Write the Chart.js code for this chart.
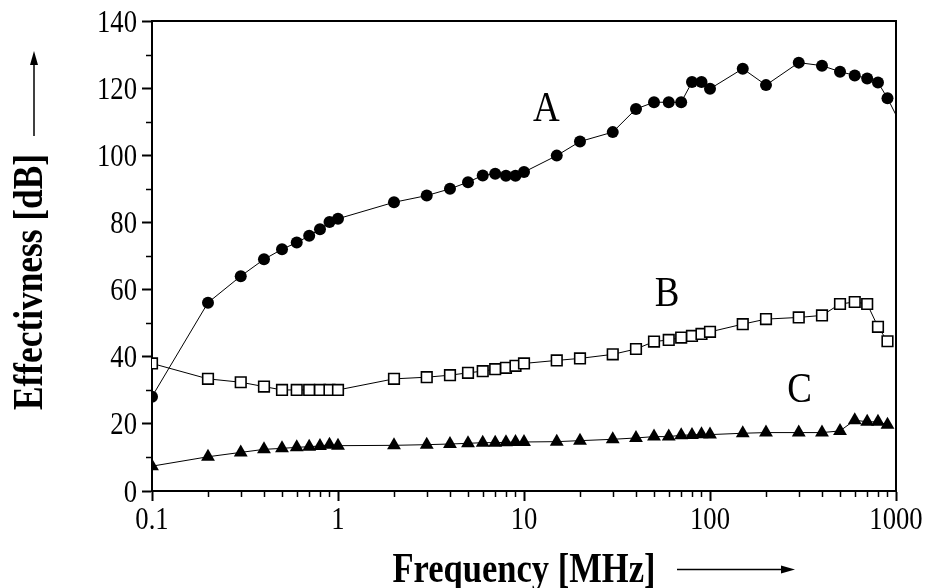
<!DOCTYPE html>
<html>
<head>
<meta charset="utf-8">
<script src="https://cdn.jsdelivr.net/npm/chart.js@4.4.1/dist/chart.umd.min.js"></script>
<style>
    html, body { margin: 0; padding: 0; background: #fff; }
    #wrap { width: 930px; height: 588px; }
</style>
</head>
<body>
<div id="wrap"><canvas id="chart" width="930" height="588"></canvas></div>
<script>
// --- Data ---
const freqA = [0.1, 0.2, 0.3, 0.4, 0.5, 0.6, 0.7, 0.8, 0.9, 1, 2, 3, 4, 5, 6, 7, 8, 9, 10, 15, 20, 30, 40, 50, 60, 70, 80, 90, 100, 150, 200, 300, 400, 500, 600, 700, 800, 900, 1000];
const valuesA = [28.1, 56.1, 64, 69, 72, 74, 76, 78, 80.1, 81.1, 86, 88, 90, 92, 94, 94.5, 93.9, 93.9, 95, 99.9, 104.1, 106.9, 113.8, 115.8, 115.8, 115.8, 121.8, 121.8, 119.8, 125.8, 120.9, 127.6, 126.7, 124.9, 123.8, 122.9, 121.7, 117, 112];

const freqBC = [0.1, 0.2, 0.3, 0.4, 0.5, 0.6, 0.7, 0.8, 0.9, 1, 2, 3, 4, 5, 6, 7, 8, 9, 10, 15, 20, 30, 40, 50, 60, 70, 80, 90, 100, 150, 200, 300, 400, 500, 600, 700, 800, 900];
const valuesB = [38, 33.4, 32.4, 31.1, 30.1, 30.1, 30.1, 30.1, 30.1, 30.1, 33.4, 33.9, 34.5, 35.2, 35.7, 36.3, 36.7, 37.3, 38, 38.9, 39.5, 40.7, 42.3, 44.5, 45, 45.7, 46.2, 46.8, 47.4, 49.7, 51.2, 51.7, 52.3, 55.7, 56.3, 55.7, 48.9, 44.6];
const valuesC = [7.4, 10.2, 11.5, 12.4, 12.7, 13, 13.2, 13.4, 13.8, 13.5, 13.6, 13.8, 14, 14.2, 14.4, 14.4, 14.5, 14.6, 14.6, 14.7, 15, 15.4, 15.8, 16.2, 16.2, 16.6, 16.7, 16.9, 16.8, 17.2, 17.4, 17.4, 17.4, 17.9, 21.1, 20.6, 20.6, 19.7];

const seriesNames = ['A', 'B', 'C'];
const nameFreq = [13.2, 58.7, 303];
const nameValue = [110.2, 55.2, 26.6];

const xMajorTicks = [0.1, 1, 10, 100, 1000];
const xTickLabels = ['0.1', '1', '10', '100', '1000'];
const xMinorTicks = [0.2, 0.3, 0.4, 0.5, 0.6, 0.7, 0.8, 0.9, 2, 3, 4, 5, 6, 7, 8, 9, 20, 30, 40, 50, 60, 70, 80, 90, 200, 300, 400, 500, 600, 700, 800, 900];
const yMajorTicks = [0, 20, 40, 60, 80, 100, 120, 140];
const yTickLabels = ['0', '20', '40', '60', '80', '100', '120', '140'];
const yMinorTicks = [10, 30, 50, 70, 90, 110, 130];

const xTitle = 'Frequency [MHz]';
const yTitle = 'Effectivness [dB]';

// --- Helpers ---
function toPoints(xs, ys) {
    return xs.map((x, i) => ({ x: x, y: ys[i] }));
}

// the picture uses a narrow Times face, so squeeze the text horizontally
function squeezedText(ctx, text, x, y, font, sx) {
    ctx.font = font;
    ctx.save();
    ctx.translate(x, y);
    ctx.scale(sx, 1);
    ctx.fillText(text, 0, 0);
    ctx.restore();
}

function fittedText(ctx, text, x, y, font, width) {
    ctx.font = font;
    squeezedText(ctx, text, x, y, font, width / ctx.measureText(text).width);
}

function arrow(ctx, x1, y1, x2, y2) {
    const ang = Math.atan2(y2 - y1, x2 - x1);
    const len = 14, half = 4;
    ctx.beginPath();
    ctx.moveTo(x1, y1);
    ctx.lineTo(x2 - Math.cos(ang) * len, y2 - Math.sin(ang) * len);
    ctx.lineWidth = 1.5;
    ctx.stroke();
    ctx.beginPath();
    ctx.moveTo(x2, y2);
    ctx.lineTo(x2 - Math.cos(ang) * len - Math.sin(ang) * half, y2 - Math.sin(ang) * len + Math.cos(ang) * half);
    ctx.lineTo(x2 - Math.cos(ang) * len + Math.sin(ang) * half, y2 - Math.sin(ang) * len - Math.cos(ang) * half);
    ctx.closePath();
    ctx.fill();
}

// --- Extra drawing: frame, minor ticks, tick labels, names, titles ---
const decorPlugin = {
    id: 'decor',
    afterDraw(chart) {
        const ctx = chart.ctx;
        const area = chart.chartArea;
        const xs = chart.scales.x, ys = chart.scales.y;
        const tickFont = '31px "Liberation Serif"';
        ctx.save();
        ctx.strokeStyle = '#000';
        ctx.fillStyle = '#000';

        // top and right frame
        ctx.lineWidth = 2;
        ctx.beginPath();
        ctx.moveTo(area.left, area.top);
        ctx.lineTo(area.right, area.top);
        ctx.lineTo(area.right, area.bottom);
        ctx.stroke();

        // minor ticks
        ctx.lineWidth = 1.5;
        ctx.beginPath();
        xMinorTicks.forEach(v => {
            const px = Math.round(xs.getPixelForValue(v)) + 0.5;
            ctx.moveTo(px, area.bottom);
            ctx.lineTo(px, area.bottom + 6);
        });
        yMinorTicks.forEach(v => {
            const py = Math.round(ys.getPixelForValue(v)) + 0.5;
            ctx.moveTo(area.left, py);
            ctx.lineTo(area.left - 6, py);
        });
        ctx.stroke();

        // tick labels
        ctx.textBaseline = 'alphabetic';
        ctx.textAlign = 'center';
        xMajorTicks.forEach((v, i) => {
            squeezedText(ctx, xTickLabels[i], xs.getPixelForValue(v), 529, tickFont, 0.86);
        });
        ctx.textAlign = 'right';
        yMajorTicks.forEach((v, i) => {
            squeezedText(ctx, yTickLabels[i], area.left - 15, ys.getPixelForValue(v) + 10.5, tickFont, 0.86);
        });

        // curve names
        ctx.textAlign = 'center';
        seriesNames.forEach((name, i) => {
            const px = xs.getPixelForValue(nameFreq[i]);
            const py = ys.getPixelForValue(nameValue[i]);
            squeezedText(ctx, name, px, py, '42px "Liberation Serif"', 0.88);
        });

        // axis titles
        fittedText(ctx, xTitle, 524, 582, 'bold 42px "Liberation Serif"', 263);
        ctx.save();
        ctx.translate(42, 282);
        ctx.rotate(-Math.PI / 2);
        fittedText(ctx, yTitle, 0, 0, 'bold 42px "Liberation Serif"', 256);
        ctx.restore();

        // arrows
        arrow(ctx, 677, 569.5, 795, 569.5);
        arrow(ctx, 34, 136, 34, 51);

        ctx.restore();
    }
};

// --- Chart ---
new Chart(document.getElementById('chart'), {
    type: 'line',
    data: {
        datasets: [
            {
                label: 'A',
                data: toPoints(freqA, valuesA),
                borderColor: '#000',
                borderWidth: 1,
                pointStyle: 'circle',
                pointRadius: ctx => (ctx.raw && ctx.raw.x >= 1000 ? 0 : 6),
                pointBackgroundColor: '#000',
                pointBorderColor: '#000',
                pointBorderWidth: 0
            },
            {
                label: 'B',
                data: toPoints(freqBC, valuesB),
                borderColor: '#000',
                borderWidth: 1,
                pointStyle: 'rect',
                pointRadius: 7.5,
                pointBackgroundColor: '#fff',
                pointBorderColor: '#000',
                pointBorderWidth: 1.6
            },
            {
                label: 'C',
                data: toPoints(freqBC, valuesC),
                borderColor: '#000',
                borderWidth: 1,
                pointStyle: 'triangle',
                pointRadius: 8,
                pointBackgroundColor: '#000',
                pointBorderColor: '#000',
                pointBorderWidth: 0
            }
        ]
    },
    options: {
        responsive: false,
        animation: false,
        devicePixelRatio: 1,
        layout: { padding: { top: 21, right: 34, left: 0, bottom: 0 } },
        plugins: {
            legend: { display: false },
            tooltip: { enabled: false }
        },
        elements: { line: { tension: 0 } },
        scales: {
            x: {
                type: 'logarithmic',
                position: 'bottom',
                min: 0.1,
                max: 1000,
                border: { display: true, color: '#000', width: 2 },
                grid: { drawOnChartArea: false, drawTicks: true, tickLength: 10, tickColor: '#000', tickWidth: 2 },
                ticks: { display: false, autoSkip: false },
                afterBuildTicks: s => { s.ticks = xMajorTicks.map(v => ({ value: v })); },
                afterFit: s => { s.height = 97; }
            },
            y: {
                type: 'linear',
                min: 0,
                max: 140,
                border: { display: true, color: '#000', width: 2 },
                grid: { drawOnChartArea: false, drawTicks: true, tickLength: 10, tickColor: '#000', tickWidth: 2 },
                ticks: { display: false },
                afterBuildTicks: s => { s.ticks = yMajorTicks.map(v => ({ value: v })); },
                afterFit: s => { s.width = 152; }
            }
        }
    },
    plugins: [decorPlugin]
});
</script>
</body>
</html>
